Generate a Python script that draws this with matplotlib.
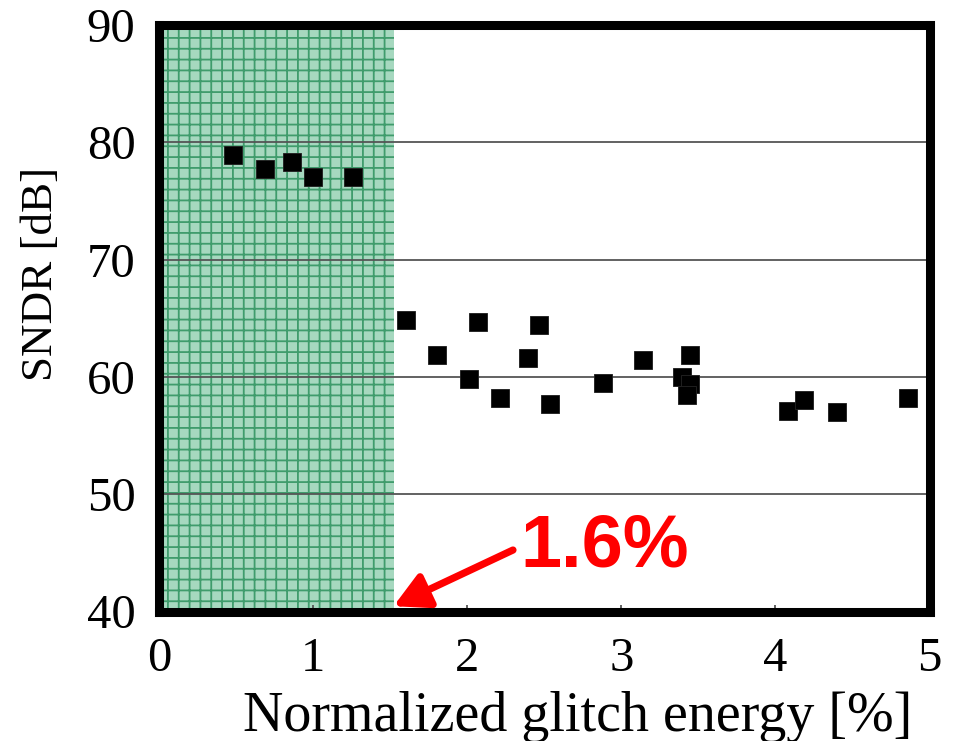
import matplotlib
matplotlib.use("Agg")
import matplotlib.pyplot as plt
from matplotlib.patches import Rectangle

# Measured SNDR versus normalized glitch energy
glitch_energy = [0.482, 0.688, 0.861, 1.001, 1.257,
                 1.603, 1.806, 2.070, 2.010, 2.213, 2.394, 2.468, 2.537,
                 2.883, 3.139, 3.444, 3.392, 3.446, 3.424,
                 4.084, 4.186, 4.398, 4.858]
sndr_db = [78.92, 77.75, 78.35, 77.02, 77.02,
           64.85, 61.87, 64.68, 59.80, 58.18, 61.59, 64.40, 57.72,
           59.51, 61.44, 61.87, 59.97, 59.37, 58.46,
           57.12, 58.03, 56.98, 58.18]

shaded_until = 1.522          # acceptable-glitch region
threshold_label = "1.6%"

x_ticks = [0, 1, 2, 3, 4, 5]
y_ticks = [40, 50, 60, 70, 80, 90]

DPI = 130
plt.rcParams["hatch.linewidth"] = 1.0
plt.rcParams["hatch.color"] = "#3f9c6c"

fig = plt.figure(figsize=(957 / DPI, 741 / DPI), dpi=DPI)
ax = fig.add_axes([159 / 957, 1 - 611.5 / 741,
                   (929.5 - 159) / 957, (611.5 - 25) / 741])

ax.set_xlim(0, 5)
ax.set_ylim(40, 90)

# shaded region with grid-paper texture
ax.add_patch(Rectangle((0, 40), shaded_until, 50,
                       facecolor="#a6d8bf", edgecolor="#3f9c6c",
                       hatch="++", linewidth=0, zorder=1))

# horizontal gridlines
for yv in y_ticks[1:-1]:
    ax.axhline(yv, color="#555555", linewidth=1.0, zorder=2)

ax.plot(glitch_energy, sndr_db, linestyle="none", marker="s",
        markersize=10, color="black", markeredgecolor="#222222",
        markeredgewidth=0.5, zorder=4)

serif = ["Liberation Serif", "DejaVu Serif"]
ax.set_xticks(x_ticks)
ax.set_yticks(y_ticks)
ax.set_xticklabels([str(v) for v in x_ticks], fontfamily=serif, fontsize=27)
ax.set_yticklabels([str(v) for v in y_ticks], fontfamily=serif, fontsize=27)
ax.tick_params(axis="x", direction="in", length=4, width=1,
               color="#555555", pad=14)
ax.tick_params(axis="y", length=0, pad=13)

ax.set_xlabel("Normalized glitch energy [%]", fontfamily=serif,
              fontsize=31)
ax.xaxis.set_label_coords(0.543, -0.135)
ax.set_ylabel("SNDR [dB]", fontfamily=serif, fontsize=25)
ax.yaxis.set_label_coords(-0.127, 0.575)

for s in ax.spines.values():
    s.set_linewidth(5)
    s.set_color("black")
    s.set_zorder(5)

# callout arrow and label
ax.annotate("", xy=(shaded_until, 40.45), xytext=(2.297, 45.24),
            arrowprops=dict(arrowstyle="-|>,head_length=1.6,head_width=0.85",
                            mutation_scale=10, color="#ff0000",
                            linewidth=4, shrinkA=0, shrinkB=0),
            zorder=6)
ax.text(2.891, 45.5, threshold_label, color="#ff0000", fontsize=41,
        fontweight="bold", fontfamily=["Liberation Sans", "DejaVu Sans"],
        ha="center", va="center", zorder=6)

fig.savefig("out.png", dpi=DPI)
